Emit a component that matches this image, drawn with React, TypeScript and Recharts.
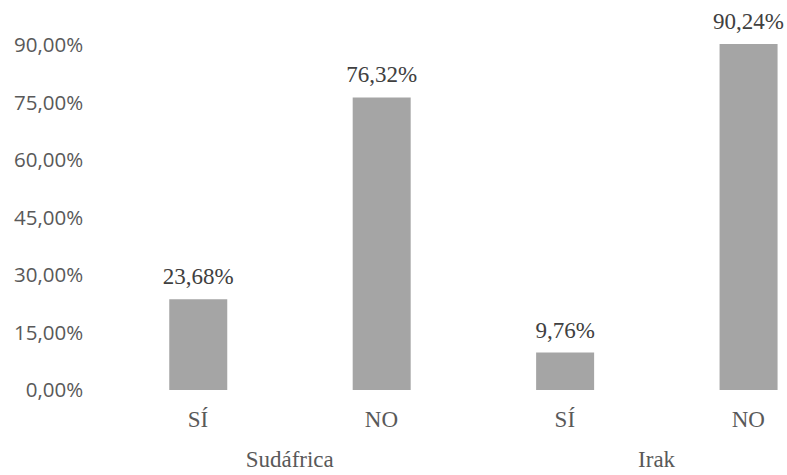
import { Bar, BarChart, LabelList, XAxis, YAxis } from 'recharts'

const countries = ['Sudáfrica', 'Sudáfrica', 'Irak', 'Irak']
const answers = ['SÍ', 'NO', 'SÍ', 'NO']
const shares = [23.68, 76.32, 9.76, 90.24]
const yTicks = [0, 15, 30, 45, 60, 75, 90]

const data = answers.map((answer, i) => ({
  key: `${countries[i]}-${answer}`,
  answer,
  country: countries[i],
  share: shares[i],
}))

const pct = (v: number) => `${Number(v).toFixed(2).replace('.', ',')}%`

// plot is 734px wide with 4 categories
const BAND = 734 / 4
const serif = '"Liberation Serif", "Times New Roman", serif'

function CategoryTick(props: any) {
  const { x, y, index } = props
  const item = data[index]
  return (
    <g>
      <text x={x} y={y + 29} textAnchor='middle' fontFamily={serif} fontSize={23} fill='#595959'>
        {item.answer}
      </text>
      {index % 2 === 0 && (
        <text x={x + BAND / 2} y={y + 69} textAnchor='middle' fontFamily={serif} fontSize={23} fill='#595959'>
          {item.country}
        </text>
      )}
    </g>
  )
}

function ValueLabel(props: any) {
  const { x, y, width, value } = props
  return (
    <text x={x + width / 2} y={y - 15} textAnchor='middle' fontFamily={serif} fontSize={23} fill='#404040'>
      {pct(value)}
    </text>
  )
}

export default function App() {
  return (
    <div style={{ position: 'absolute', left: 0, top: 0, width: 787, height: 475, overflow: 'hidden', background: '#fff' }}>
      <BarChart
        width={850}
        height={475}
        data={data}
        margin={{ top: 25.83, right: 10, bottom: 0, left: 6.25 }}
        barCategoryGap={0}
      >
        <XAxis
          dataKey='key'
          axisLine={false}
          tickLine={false}
          height={85}
          interval={0}
          tick={<CategoryTick />}
        />
        <YAxis
          domain={[0, 95]}
          ticks={yTicks}
          tickFormatter={pct}
          axisLine={false}
          tickLine={false}
          width={100}
          tickMargin={17}
          tick={{ fill: '#595959', fontSize: 20.5, fontFamily: '"Open Sans", sans-serif' }}
        />
        <Bar dataKey='share' fill='#a5a5a5' barSize={58} isAnimationActive={false}>
          <LabelList dataKey='share' content={<ValueLabel />} />
        </Bar>
      </BarChart>
    </div>
  )
}
